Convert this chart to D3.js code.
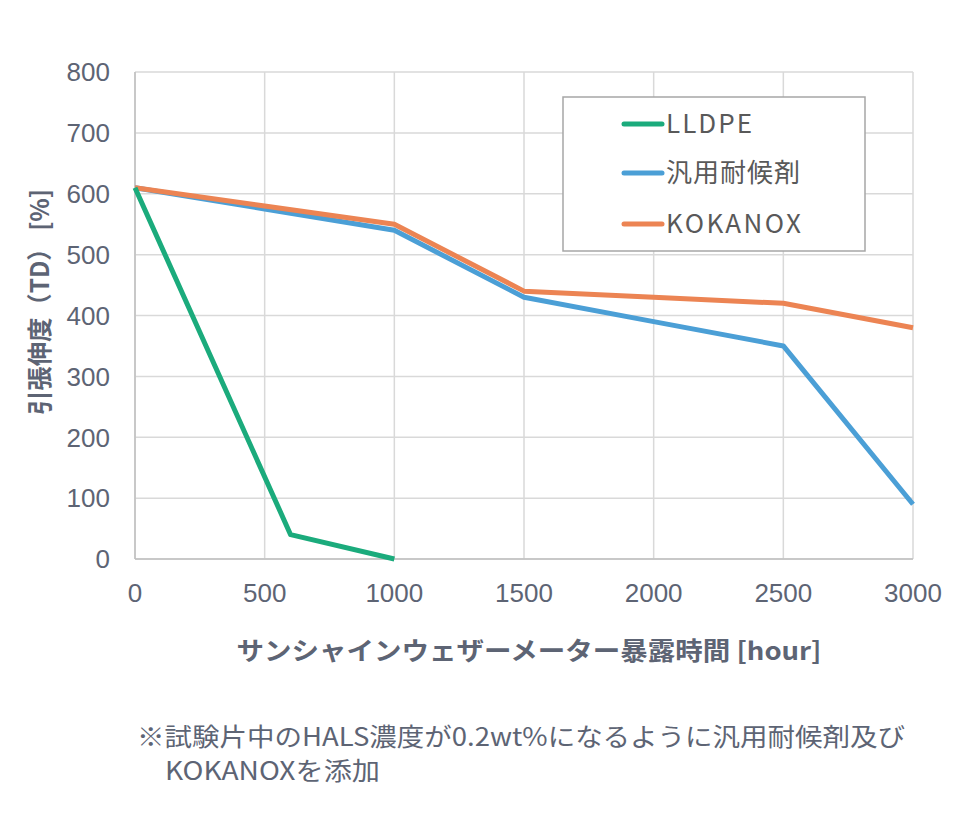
<!DOCTYPE html>
<html><head><meta charset="utf-8">
<script src="https://cdn.jsdelivr.net/npm/d3@7"></script>
<style>
body{margin:0;background:#fff;}
svg{font-family:"Noto Sans CJK JP","Noto Sans",sans-serif;}
</style></head><body>
<svg id="c" width="980" height="840"></svg>
<script>
const hours = [0, 500, 1000, 1500, 2000, 2500, 3000];
const lldpeHours = [0, 600, 1000];
const lldpeValues = [610, 40, 0];
const genericValues = [610, 575, 540, 430, 390, 350, 90];
const kokanoxValues = [610, 580, 550, 440, 430, 420, 380];
const seriesNames = ["LLDPE", "汎用耐候剤", "KOKANOX"];
const seriesColors = ["#1bab7c", "#4b9fd6", "#ec8453"];
const xTicks = [0, 500, 1000, 1500, 2000, 2500, 3000];
const yTicks = [0, 100, 200, 300, 400, 500, 600, 700, 800];

const svg = d3.select("#c");
const x = d3.scaleLinear().domain([0, 3000]).range([135, 913]);
const y = d3.scaleLinear().domain([0, 800]).range([559, 72]);
const textCol = "#5d6474";

// grid
svg.append("g").selectAll("line").data(yTicks).join("line")
  .attr("x1", 135).attr("x2", 913).attr("y1", d => y(d)).attr("y2", d => y(d))
  .attr("stroke", "#d9d9d9").attr("stroke-width", 1.5);
svg.append("g").selectAll("line").data(xTicks).join("line")
  .attr("y1", 72).attr("y2", 559).attr("x1", d => x(d)).attr("x2", d => x(d))
  .attr("stroke", "#d9d9d9").attr("stroke-width", 1.5);
svg.append("line").attr("x1",135).attr("x2",135).attr("y1",72).attr("y2",559).attr("stroke","#bfbfbf").attr("stroke-width",1.5);
svg.append("line").attr("x1",135).attr("x2",913).attr("y1",559).attr("y2",559).attr("stroke","#bfbfbf").attr("stroke-width",1.5);

// tick labels
svg.append("g").selectAll("text").data(yTicks).join("text")
  .attr("x", 110).attr("y", d => y(d)).attr("dy", "0.36em")
  .attr("text-anchor", "end").attr("font-size", 26).attr("fill", textCol)
  .attr("font-family", "'Liberation Sans', Arial, sans-serif")
  .text(d => d);
svg.append("g").selectAll("text").data(xTicks).join("text")
  .attr("x", d => x(d)).attr("y", 593).attr("dy", "0.36em")
  .attr("text-anchor", "middle").attr("font-size", 26).attr("fill", textCol)
  .attr("font-family", "'Liberation Sans', Arial, sans-serif")
  .text(d => d);

// lines
const line = d3.line().x(d => x(d[0])).y(d => y(d[1]));
const data = [
  lldpeHours.map((h, i) => [h, lldpeValues[i]]),
  hours.map((h, i) => [h, genericValues[i]]),
  hours.map((h, i) => [h, kokanoxValues[i]])
];
[1, 2, 0].forEach(i => {
  svg.append("path").attr("d", line(data[i])).attr("fill", "none")
    .attr("stroke", seriesColors[i]).attr("stroke-width", 5)
    .attr("stroke-linejoin", "round");
});

// legend
svg.append("rect").attr("x", 563).attr("y", 97).attr("width", 302).attr("height", 154)
  .attr("fill", "#fff").attr("stroke", "#a6a6a6").attr("stroke-width", 1.5);
const legY = [124, 173, 224];
const legLen = [86, 134, 135];
seriesNames.forEach((n, i) => {
  svg.append("line").attr("x1", 624).attr("x2", 662).attr("y1", legY[i]).attr("y2", legY[i])
    .attr("stroke", seriesColors[i]).attr("stroke-width", 5).attr("stroke-linecap", "round");
  svg.append("text").attr("x", 666).attr("y", legY[i]).attr("dy", "0.36em")
    .attr("font-size", 26).attr("fill", "#595959")
    .attr("textLength", legLen[i]).attr("lengthAdjust", "spacing")
    .text(n);
});

// axis titles
svg.append("text").attr("transform", "translate(40,302) rotate(-90)")
  .attr("text-anchor", "middle").attr("font-size", 25).attr("font-weight", "bold")
  .attr("dy", "0.35em")
  .attr("textLength", 226).attr("lengthAdjust", "spacingAndGlyphs")
  .attr("fill", textCol).text("引張伸度（TD） [%]");
svg.append("text").attr("x", 529).attr("y", 651).attr("dy", "0.35em")
  .attr("text-anchor", "middle").attr("font-size", 25).attr("font-weight", "bold")
  .attr("textLength", 585).attr("lengthAdjust", "spacingAndGlyphs")
  .attr("fill", textCol).text("サンシャインウェザーメーター暴露時間 [hour]");

// footnote
svg.append("text").attr("x", 137).attr("y", 746).attr("font-size", 25)
  .attr("fill", textCol).attr("textLength", 768).attr("lengthAdjust", "spacingAndGlyphs")
  .text("※試験片中のHALS濃度が0.2wt%になるように汎用耐候剤及び");
svg.append("text").attr("x", 165).attr("y", 780).attr("font-size", 25)
  .attr("fill", textCol).attr("textLength", 215).attr("lengthAdjust", "spacingAndGlyphs")
  .text("KOKANOXを添加");
</script>
</body></html>
